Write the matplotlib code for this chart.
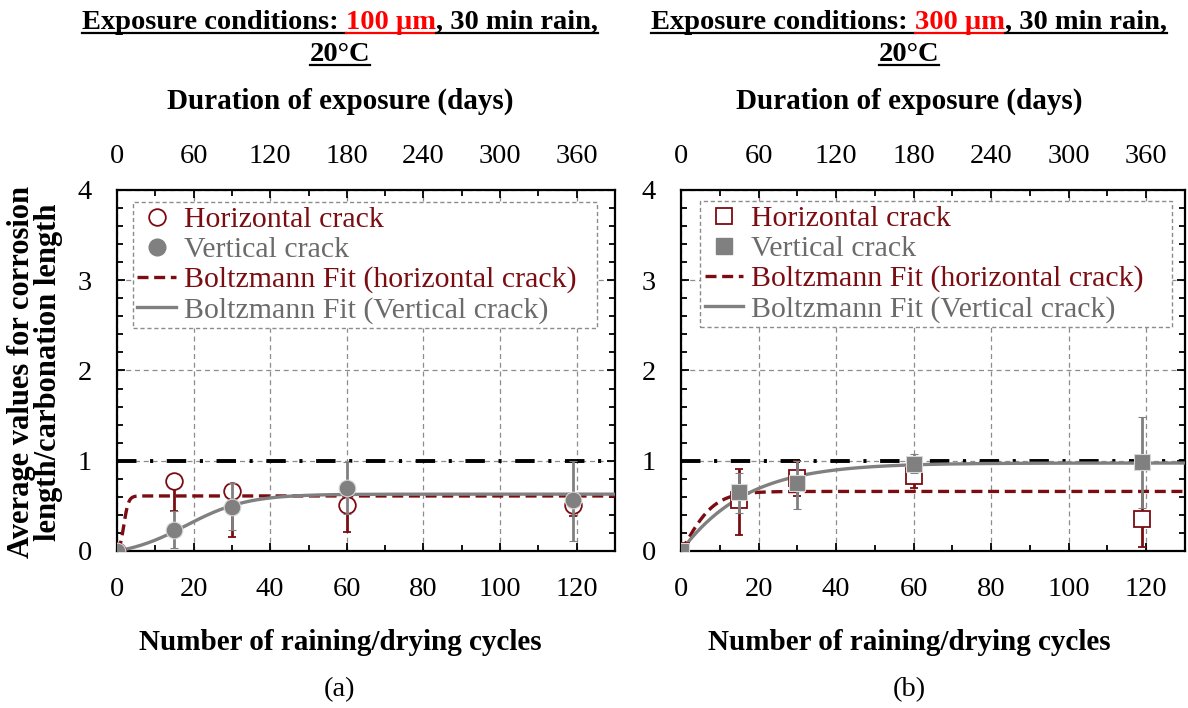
import matplotlib
matplotlib.use('Agg')
import matplotlib.pyplot as plt
import numpy as np
from matplotlib.lines import Line2D
from matplotlib.ticker import MultipleLocator

plt.rcParams['font.family'] = ['Liberation Serif', 'DejaVu Serif']

DARK_RED = '#7b0d12'
GREY = '#808080'
GREY_TXT = '#6b6b6b'
GRID = '#8c8c8c'

# ---------------- data ----------------
cycles = [0, 15, 30, 60, 119]
day_ticks = [0, 60, 120, 180, 240, 300, 360]
cycle_ticks = [0, 20, 40, 60, 80, 100, 120]
y_ticks = [0, 1, 2, 3, 4]

# Panel (a): 100 µm
a_h = [0, 0.78, 0.66, 0.51, 0.51]
a_h_lo = [0, 0.34, 0.51, 0.30, 0.12]
a_h_hi = [0, 0, 0, 0, 0]
a_v = [0, 0.23, 0.49, 0.70, 0.56]
a_v_lo = [0, 0.20, 0.26, 0.29, 0.45]
a_v_hi = [0, 0.21, 0.26, 0.29, 0.44]
# Boltzmann fit parameters (A1, A2, x0, dx)
a_fit_h = (-0.030, 0.61, 1.8, 0.6)
a_fit_v = (-0.066, 0.63, 18.0, 8.0)

# Panel (b): 300 µm
b_h = [0, 0.56, 0.81, 0.83, 0.36]
b_h_lo = [0, 0.38, 0.20, 0.13, 0.32]
b_h_hi = [0, 0.35, 0.19, 0.10, 0.30]
b_v = [0, 0.65, 0.75, 0.96, 0.99]
b_v_lo = [0, 0.23, 0.28, 0.10, 0.51]
b_v_hi = [0, 0.21, 0.25, 0.12, 0.50]
b_fit_h = (-0.514, 0.66, 1.0, 4.0)
b_fit_v = (-7.22, 0.975, -30.0, 15.0)

ref_level = 1.0

legend_labels = ['Horizontal crack', 'Vertical crack',
                 'Boltzmann Fit (horizontal crack)', 'Boltzmann Fit (Vertical crack)']

W, H = 1188, 708
fig = plt.figure(figsize=(W / 100, H / 100), dpi=100)

FS = 20.5
LFS = 21.5


def boltzmann(x, p):
    A1, A2, x0, dx = p
    return A2 + (A1 - A2) / (1 + np.exp((x - x0) / dx))


def make_panel(rect, h, h_lo, h_hi, v, v_lo, v_hi, fit_h, fit_v, marker, leg_box):
    ax = fig.add_axes(rect)
    ax.set_xlim(0, 130)
    ax.set_ylim(0, 4)
    ax.set_xticks(cycle_ticks)
    ax.set_yticks(y_ticks)
    ax.xaxis.set_minor_locator(MultipleLocator(10))
    ax.yaxis.set_minor_locator(MultipleLocator(0.2))
    ax.tick_params(which='both', direction='in', top=True, right=True, width=1.3, color='black')
    ax.tick_params(which='major', length=6)
    ax.tick_params(which='minor', length=4)
    ax.tick_params(axis='x', labelsize=FS, pad=19)
    ax.tick_params(axis='y', labelsize=FS, pad=18)
    for s in ax.spines.values():
        s.set_linewidth(1.6)
    ax.grid(True, which='major', ls=(0, (4, 3)), color=GRID, lw=0.9)
    ax.set_axisbelow(True)

    xs = np.linspace(0, 130, 600)
    ax.axhline(ref_level, color='black', lw=2.8, ls=(0, (5, 3.5, 0.8, 3.5)), zorder=2)
    ax.plot(xs, boltzmann(xs, fit_h), color=DARK_RED, lw=2.4, ls=(0, (3.3, 1.7)), zorder=3)
    ax.plot(xs, boltzmann(xs, fit_v), color=GREY, lw=2.4, zorder=4)

    ms = 12
    ax.errorbar(cycles, h, yerr=[h_lo, h_hi], fmt=marker, ms=ms, mfc='white', mec=DARK_RED,
                mew=1.3, ecolor=DARK_RED, elinewidth=2, capsize=3, capthick=2, zorder=5)
    ax.errorbar(cycles, v, yerr=[v_lo, v_hi], fmt=marker, ms=ms, mfc=GREY, mec='#d8d8d8',
                mew=0.8, ecolor=GREY, elinewidth=2, capsize=3, capthick=2, zorder=6)

    handles = [
        Line2D([], [], marker=marker, ls='none', mfc='white', mec=DARK_RED, ms=ms, mew=1.3),
        Line2D([], [], marker=marker, ls='none', mfc=GREY, mec=GREY, ms=ms),
        Line2D([], [], color=DARK_RED, lw=2.4, ls=(0, (3.3, 1.7))),
        Line2D([], [], color=GREY, lw=2.4),
    ]
    leg = ax.legend(handles, legend_labels, loc='upper left', bbox_to_anchor=leg_box,
                    mode='expand', borderaxespad=0, fontsize=LFS, handlelength=1.3,
                    handletextpad=0.25, labelspacing=0.1, borderpad=0.15,
                    fancybox=False, framealpha=1, facecolor='white')
    fr = leg.get_frame()
    fr.set_edgecolor(GRID)
    fr.set_linestyle((0, (3, 2)))
    fr.set_linewidth(1.0)
    cols = [DARK_RED, GREY_TXT, DARK_RED, GREY_TXT]
    for t, c in zip(leg.get_texts(), cols):
        t.set_color(c)
    leg.set_zorder(10)

    sec = ax.secondary_xaxis('top', functions=(lambda x: x * 3, lambda d: d / 3))
    sec.set_xticks(day_ticks)
    sec.tick_params(axis='x', length=0, labelsize=FS, pad=15)
    sec.xaxis.set_minor_locator(plt.NullLocator())
    sec.spines['top'].set_visible(False)
    return ax


ax_a = make_panel([117 / W, 1 - 551 / H, 498 / W, 361 / H], a_h, a_h_lo, a_h_hi,
                  a_v, a_v_lo, a_v_hi, a_fit_h, a_fit_v, 'o', (0.032, 0.633, 0.932, 0.334))
ax_b = make_panel([681 / W, 1 - 551 / H, 504 / W, 361 / H], b_h, b_h_lo, b_h_hi,
                  b_v, b_v_lo, b_v_hi, b_fit_h, b_fit_v, 's', (0.038, 0.614, 0.936, 0.356))

renderer = fig.canvas.get_renderer()


def text_width(s, **kw):
    t = fig.text(0, 0, s + '|', **kw)
    w1 = t.get_window_extent(renderer).width
    t.remove()
    t = fig.text(0, 0, '|', **kw)
    w2 = t.get_window_extent(renderer).width
    t.remove()
    return w1 - w2


def rich_line(parts, xc_px, base_px, size):
    kw = dict(fontsize=size, fontweight='bold')
    full = ''.join(p for p, _ in parts)
    total = text_width(full, **kw)
    x0 = xc_px - total / 2
    prefix = ''
    for s, c in parts:
        xs = x0 + text_width(prefix, **kw) if prefix else x0
        w = text_width(s, **kw)
        fig.text(xs / W, 1 - base_px / H, s, color=c, va='baseline', ha='left', **kw)
        fig.add_artist(Line2D([xs / W, (xs + w) / W], [1 - (base_px + 4) / H] * 2,
                              color=c, lw=1.6, transform=fig.transFigure))
        prefix += s


for xc, amount in [(340, '100 µm'), (909, '300 µm')]:
    rich_line([('Exposure conditions: ', 'black'), (amount, '#ff0000'),
               (', 30 min rain,', 'black')], xc, 29, FS)
    rich_line([('20°C', 'black')], xc, 61, FS)
    fig.text(xc / W, 1 - 101 / H, 'Duration of exposure (days)', ha='center', va='center',
             fontsize=21, fontweight='bold')
    fig.text(xc / W, 1 - 643 / H, 'Number of raining/drying cycles', ha='center', va='center',
             fontsize=21, fontweight='bold')

fig.text(340 / W, 1 - 690 / H, '(a)', ha='center', va='center', fontsize=FS)
fig.text(909 / W, 1 - 690 / H, '(b)', ha='center', va='center', fontsize=FS)

fig.text(35 / W, 1 - 372 / H, 'Average values for corrosion\nlength/carbonation length',
         rotation=90, ha='center', va='center', multialignment='center',
         fontsize=22, fontweight='bold', linespacing=0.92)

fig.savefig('out.png', dpi=100)
